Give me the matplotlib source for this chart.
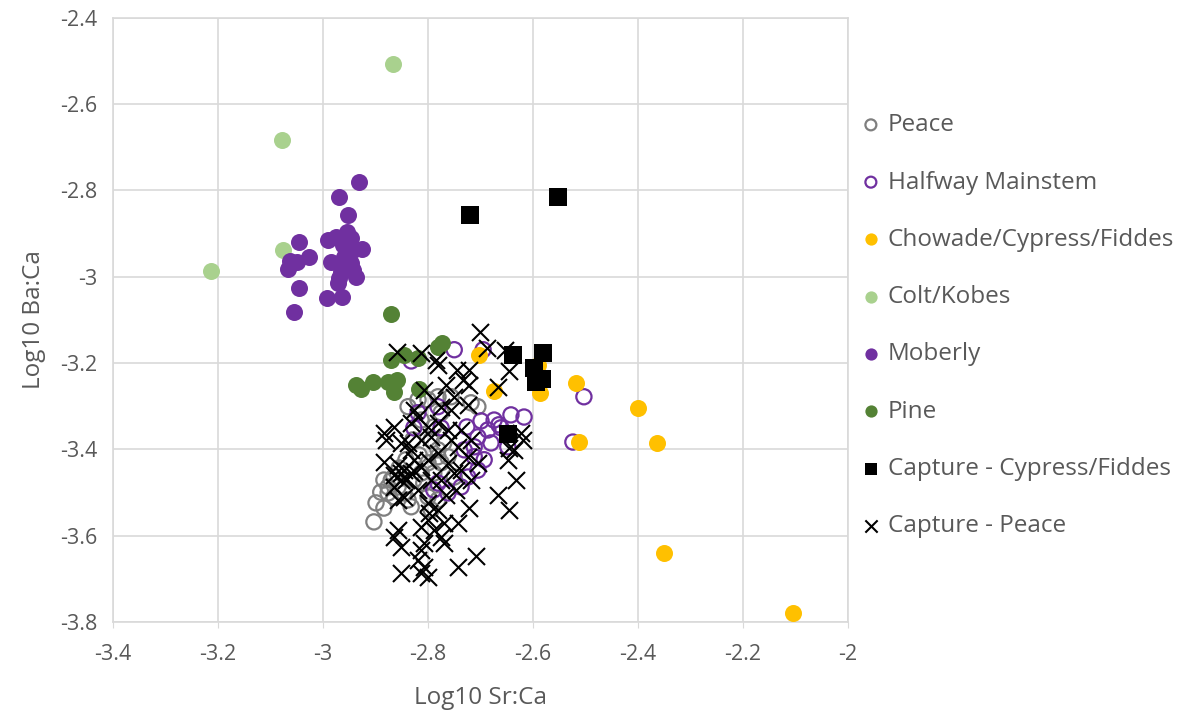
import matplotlib
matplotlib.use("Agg")
import matplotlib.pyplot as plt

plt.rcParams['font.family'] = ['Open Sans', 'DejaVu Sans']

# ---- data ----
peace_x = [-2.903, -2.884, -2.890, -2.876, -2.884, -2.865, -2.855, -2.846, -2.832, -2.838,
           -2.808, -2.789, -2.775, -2.762, -2.781, -2.770, -2.750, -2.800, -2.781, -2.794,
           -2.838, -2.819, -2.800, -2.813, -2.789, -2.794, -2.781, -2.800, -2.813, -2.827,
           -2.870, -2.876, -2.865, -2.899, -2.857, -2.781, -2.756, -2.718, -2.705, -2.775,
           -2.829, -2.817, -2.842]
peace_y = [-3.568, -3.536, -3.499, -3.487, -3.471, -3.464, -3.443, -3.501, -3.533, -3.517,
           -3.478, -3.455, -3.431, -3.417, -3.401, -3.385, -3.464, -3.510, -3.517, -3.540,
           -3.301, -3.285, -3.285, -3.332, -3.348, -3.378, -3.417, -3.431, -3.455, -3.471,
           -3.471, -3.501, -3.510, -3.524, -3.487, -3.278, -3.278, -3.292, -3.301, -3.315,
           -3.378, -3.413, -3.424]

halfway_x = [-2.503, -2.524, -2.695, -2.832, -2.750, -2.642, -2.617, -2.699, -2.674, -2.665,
             -2.726, -2.686, -2.661, -2.705, -2.680, -2.648, -2.731, -2.712, -2.693, -2.705,
             -2.724, -2.737, -2.762, -2.781, -2.819, -2.781, -2.775, -2.712, -2.789, -2.827]
halfway_y = [-3.278, -3.383, -3.169, -3.195, -3.169, -3.320, -3.325, -3.334, -3.332, -3.343,
             -3.348, -3.355, -3.350, -3.371, -3.385, -3.394, -3.401, -3.417, -3.424, -3.448,
             -3.464, -3.487, -3.501, -3.478, -3.315, -3.301, -3.350, -3.394, -3.494, -3.350]

chowade_x = [-2.703, -2.674, -2.590, -2.587, -2.518, -2.512, -2.400, -2.364, -2.350, -2.105]
chowade_y = [-3.181, -3.264, -3.204, -3.269, -3.246, -3.383, -3.304, -3.385, -3.640, -3.779]

colt_x = [-2.867, -3.078, -3.076, -3.213]
colt_y = [-2.507, -2.683, -2.938, -2.986]

moberly_x = [-2.931, -2.970, -2.952, -2.990, -2.975, -2.954, -2.947, -2.926, -3.046, -3.027,
             -3.063, -3.050, -3.067, -2.985, -2.960, -2.947, -2.966, -2.937, -2.971, -3.046,
             -2.992, -2.964, -3.055, -2.962, -2.943, -2.958, -2.943, -2.970]
moberly_y = [-2.780, -2.815, -2.857, -2.914, -2.908, -2.896, -2.910, -2.935, -2.919, -2.954,
             -2.963, -2.965, -2.982, -2.965, -2.954, -2.968, -2.989, -3.000, -3.014, -3.026,
             -3.049, -3.047, -3.081, -2.926, -2.938, -2.972, -2.984, -3.003]

pine_x = [-2.870, -2.937, -2.928, -2.905, -2.876, -2.859, -2.865, -2.817, -2.870, -2.846,
          -2.819, -2.781, -2.773]
pine_y = [-3.086, -3.251, -3.260, -3.244, -3.244, -3.239, -3.267, -3.260, -3.193, -3.181,
          -3.188, -3.163, -3.153]

cap_cf_x = [-2.720, -2.552, -2.638, -2.581, -2.598, -2.594, -2.583, -2.648]
cap_cf_y = [-2.857, -2.815, -3.181, -3.176, -3.211, -3.244, -3.237, -3.364]

cap_peace_x = [-2.701, -2.688, -2.653, -2.646, -2.859, -2.813, -2.785, -2.781, -2.745, -2.722,
               -2.733, -2.722, -2.667, -2.750, -2.724, -2.789, -2.775, -2.756, -2.832, -2.865,
               -2.884, -2.819, -2.800, -2.781, -2.762, -2.623, -2.619, -2.838, -2.813, -2.851,
               -2.832, -2.800, -2.781, -2.762, -2.743, -2.724, -2.705, -2.636, -2.648, -2.632,
               -2.667, -2.646, -2.722, -2.743, -2.770, -2.781, -2.798, -2.800, -2.819, -2.846,
               -2.857, -2.865, -2.851, -2.832, -2.813, -2.794, -2.775, -2.750, -2.800, -2.813,
               -2.789, -2.775, -2.857, -2.865, -2.851, -2.813, -2.808, -2.770, -2.743, -2.709,
               -2.851, -2.808, -2.813, -2.800, -2.819, -2.646, -2.827, -2.808, -2.766, -2.794,
               -2.756, -2.737, -2.718, -2.737, -2.718, -2.766, -2.747, -2.827, -2.842, -2.880,
               -2.884, -2.865, -2.857, -2.846, -2.851, -2.827]
cap_peace_y = [-3.128, -3.165, -3.169, -3.218, -3.174, -3.176, -3.193, -3.204, -3.216, -3.216,
               -3.239, -3.251, -3.255, -3.278, -3.297, -3.285, -3.302, -3.308, -3.339, -3.348,
               -3.362, -3.325, -3.348, -3.339, -3.355, -3.362, -3.378, -3.385, -3.378, -3.385,
               -3.401, -3.424, -3.408, -3.431, -3.394, -3.417, -3.431, -3.401, -3.424, -3.471,
               -3.505, -3.540, -3.536, -3.570, -3.570, -3.540, -3.547, -3.524, -3.494, -3.510,
               -3.517, -3.487, -3.454, -3.454, -3.441, -3.471, -3.471, -3.454, -3.563, -3.580,
               -3.587, -3.603, -3.587, -3.603, -3.626, -3.633, -3.617, -3.617, -3.672, -3.647,
               -3.686, -3.672, -3.686, -3.695, -3.656, -3.397, -3.308, -3.262, -3.251, -3.371,
               -3.378, -3.355, -3.378, -3.447, -3.471, -3.505, -3.494, -3.424, -3.471, -3.378,
               -3.430, -3.460, -3.437, -3.447, -3.470, -3.450]

x_ticks = [-3.4, -3.2, -3.0, -2.8, -2.6, -2.4, -2.2, -2.0]
y_ticks = [-2.4, -2.6, -2.8, -3.0, -3.2, -3.4, -3.6, -3.8]

grid_c = '#d9d9d9'
text_c = '#595959'

fig = plt.figure(figsize=(11.96, 7.16), dpi=100)
ax = fig.add_axes([0.0945, 0.1313, 0.6145, 0.8437])

s_fill = 150
s_open = 120
ax.scatter(peace_x, peace_y, s=s_open, facecolors='none', edgecolors='#7f7f7f',
           linewidths=1.6, label='Peace', zorder=3)
ax.scatter(halfway_x, halfway_y, s=s_open, facecolors='none', edgecolors='#7030a0',
           linewidths=1.6, label='Halfway Mainstem', zorder=3)
ax.scatter(chowade_x, chowade_y, s=s_fill, color='#ffc000', linewidths=0,
           label='Chowade/Cypress/Fiddes', zorder=3)
ax.scatter(colt_x, colt_y, s=s_fill, color='#a9d18e', linewidths=0,
           label='Colt/Kobes', zorder=3)
ax.scatter(moberly_x, moberly_y, s=s_fill, color='#7030a0', linewidths=0,
           label='Moberly', zorder=3)
ax.scatter(pine_x, pine_y, s=s_fill, color='#548235', linewidths=0,
           label='Pine', zorder=3)
ax.scatter(cap_cf_x, cap_cf_y, s=150, marker='s', color='black', linewidths=0,
           label='Capture - Cypress/Fiddes', zorder=3)
ax.scatter(cap_peace_x, cap_peace_y, s=150, marker='x', color='black', linewidths=1.5,
           label='Capture - Peace', zorder=3)

ax.set_xlim(-3.4, -2.0)
ax.set_ylim(-3.8, -2.4)
ax.set_xticks(x_ticks)
ax.set_yticks(y_ticks)
ax.set_xticklabels(['-3.4', '-3.2', '-3', '-2.8', '-2.6', '-2.4', '-2.2', '-2'])
ax.set_yticklabels(['-2.4', '-2.6', '-2.8', '-3', '-3.2', '-3.4', '-3.6', '-3.8'])
ax.grid(True, color=grid_c, linewidth=1.2, zorder=0)
ax.set_axisbelow(True)
for sp in ax.spines.values():
    sp.set_color(grid_c)
    sp.set_linewidth(1.2)
ax.tick_params(axis='x', colors=grid_c, labelcolor=text_c, labelsize=15.5, length=4, pad=12)
ax.tick_params(axis='y', length=0, labelcolor=text_c, labelsize=15.5, pad=11)

ax.set_xlabel('Log10 Sr:Ca', fontsize=17.5, color=text_c, labelpad=15)
ax.set_ylabel('Log10 Ba:Ca', fontsize=17.5, color=text_c, labelpad=10)

fig.legend(loc='center left', bbox_to_anchor=(0.718, 0.545), frameon=False,
           fontsize=17.5, labelcolor=text_c, labelspacing=1.37, handletextpad=0.2,
           handlelength=1.0, borderaxespad=0, borderpad=0,
           markerscale=0.72, scatterpoints=1)

fig.savefig('out.png', dpi=100)
